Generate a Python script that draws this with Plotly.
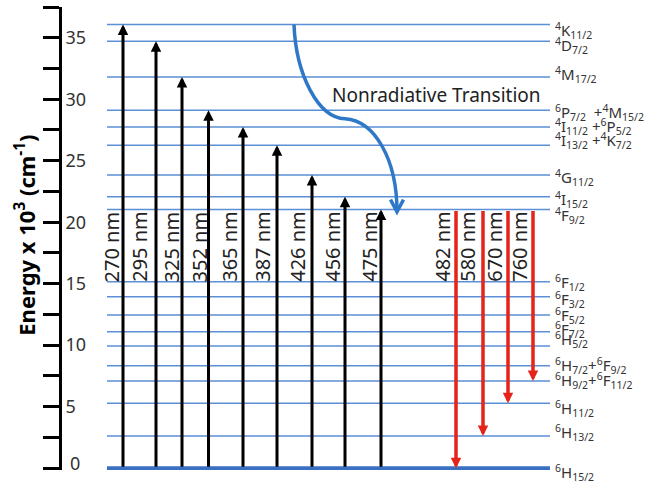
import plotly.graph_objects as go

# Dy3+ energy levels (x10^3 cm^-1), top to bottom
level_names = [
    "<sup>4</sup>K<sub>11/2</sub>",
    "<sup>4</sup>D<sub>7/2</sub>",
    "<sup>4</sup>M<sub>17/2</sub>",
    "<sup>6</sup>P<sub>7/2</sub>  +<sup>4</sup>M<sub>15/2</sub>",
    "<sup>4</sup>I<sub>11/2</sub> +<sup>6</sup>P<sub>5/2</sub>",
    "<sup>4</sup>I<sub>13/2</sub> +<sup>4</sup>K<sub>7/2</sub>",
    "<sup>4</sup>G<sub>11/2</sub>",
    "<sup>4</sup>I<sub>15/2</sub>",
    "<sup>4</sup>F<sub>9/2</sub>",
    "<sup>6</sup>F<sub>1/2</sub>",
    "<sup>6</sup>F<sub>3/2</sub>",
    "<sup>6</sup>F<sub>5/2</sub>",
    "<sup>6</sup>F<sub>7/2</sub>",
    "<sup>6</sup>H<sub>5/2</sub>",
    "<sup>6</sup>H<sub>7/2</sub>+<sup>6</sup>F<sub>9/2</sub>",
    "<sup>6</sup>H<sub>9/2</sub>+<sup>6</sup>F<sub>11/2</sub>",
    "<sup>6</sup>H<sub>11/2</sub>",
    "<sup>6</sup>H<sub>13/2</sub>",
    "<sup>6</sup>H<sub>15/2</sub>",
]
level_energy = [36.07, 34.71, 31.81, 29.11, 27.75, 26.26, 23.83, 22.06, 21.04,
                15.16, 13.94, 12.45, 11.10, 9.94, 8.33, 7.09, 5.28, 2.62, 0.0]

# Excitation (absorption) transitions from the ground state
exc_labels = ["270 nm", "295 nm", "325 nm", "352 nm", "365 nm",
              "387 nm", "426 nm", "456 nm", "475 nm"]
exc_level = [0, 1, 2, 3, 4, 5, 6, 7, 8]

# Emission transitions from 4F9/2
em_labels = ["482 nm", "580 nm", "670 nm", "760 nm"]
em_from = 8
em_level = [18, 17, 16, 15]

# y-axis ticks (labelled every 5, minor marks every 2.5)
tick_vals = [i * 2.5 for i in range(16)]
tick_text = [str(int(v)) if i % 2 == 0 else "" for i, v in enumerate(tick_vals)]

# ---- layout geometry (horizontal positions on a 0..595 x scale) ----
line_x0, line_x1 = 45, 488
label_x = 491
label_yshift = [-6, -4, 2, -2, 0, 5, -2, -3, -6, -1, -3, 0, 2, 6, 0, 0, -5, 3, -4]
exc_x = [61, 94, 120, 146.5, 181, 215, 250, 283, 319]
exc_text_x = [49.7, 78, 109.7, 137.7, 168, 201, 236, 271, 308]
em_x = [394, 421, 446, 471]
em_text_x = [381, 406, 433, 458]
wl_text_y = 18.0

LEVEL_BLUE = "#5b8fd6"
BASE_BLUE = "#3b6fc2"
CURVE_BLUE = "#2f78c8"
RED = "#e4241b"
FONT = "Noto Sans"

fig = go.Figure()

# upper levels as thin lines
xs, ys = [], []
for e in level_energy[:-1]:
    xs += [line_x0, line_x1, None]
    ys += [e, e, None]
fig.add_trace(go.Scatter(x=xs, y=ys, mode="lines",
                         line=dict(color=LEVEL_BLUE, width=1.5),
                         hoverinfo="skip", showlegend=False))
# ground state as a thick line
fig.add_trace(go.Scatter(x=[line_x0, line_x1], y=[level_energy[-1]] * 2, mode="lines",
                         line=dict(color=BASE_BLUE, width=4),
                         hoverinfo="skip", showlegend=False))

annotations = []

# level term labels
for name, e, dy in zip(level_names, level_energy, label_yshift):
    annotations.append(dict(x=label_x, y=e, xref="x", yref="y", text=name,
                            showarrow=False, xanchor="left", yanchor="middle",
                            yshift=dy, font=dict(family=FONT, size=15, color="#333333")))

# absorption arrows
for x, lv, tx, lab in zip(exc_x, exc_level, exc_text_x, exc_labels):
    annotations.append(dict(x=x, y=level_energy[lv], ax=x, ay=level_energy[-1],
                            xref="x", yref="y", axref="x", ayref="y", text="",
                            showarrow=True, arrowhead=2, arrowsize=0.7,
                            arrowwidth=3, arrowcolor="black", standoff=0))
    annotations.append(dict(x=tx, y=wl_text_y, xref="x", yref="y", text=lab,
                            showarrow=False, textangle=-90,
                            font=dict(family=FONT, size=20, color="#222222")))

# emission arrows
for x, lv, tx, lab in zip(em_x, em_level, em_text_x, em_labels):
    annotations.append(dict(x=x, y=level_energy[lv], ax=x, ay=level_energy[em_from],
                            xref="x", yref="y", axref="x", ayref="y", text="",
                            showarrow=True, arrowhead=2, arrowsize=0.6,
                            arrowwidth=3.5, arrowcolor=RED, standoff=0))
    annotations.append(dict(x=tx, y=wl_text_y, xref="x", yref="y", text=lab,
                            showarrow=False, textangle=-90,
                            font=dict(family=FONT, size=20, color="#222222")))

# nonradiative relaxation label
annotations.append(dict(x=268, y=30.37, xref="x", yref="y",
                        text="Nonradiative Transition", showarrow=False,
                        xanchor="left", yanchor="middle",
                        font=dict(family=FONT, size=19, color="#222222")))

# zero label sits at the bottom edge, where inside tick labels get dropped
annotations.append(dict(x=0, y=tick_vals[0], xref="paper", yref="y", xshift=6, yshift=5,
                        text=tick_text[0], showarrow=False, xanchor="left", yanchor="middle",
                        font=dict(family=FONT, size=18, color="#333333")))

# y-axis title
annotations.append(dict(x=0, y=0.506, xref="paper", yref="paper", xshift=-37,
                        text="<b>Energy x 10<sup>3</sup> (cm<sup>-1</sup>)</b>",
                        showarrow=False, textangle=-90, xanchor="center", yanchor="middle",
                        font=dict(family=FONT, size=22, color="black")))

# S-shaped nonradiative path from 4K11/2 down to 4F9/2
top = level_energy[0]
knee = 28.41
tip_x, tip_y = 335, 20.85
curve = (f"M 232,{top} C 234,31.99 256,28.50 283,{knee} "
         f"C 313,28.25 {tip_x},25.08 {tip_x},{tip_y}")
head = (f"M {tip_x - 6.5},{tip_y + 0.98} L {tip_x},{tip_y} "
        f"L {tip_x + 6.5},{tip_y + 0.98}")
shapes = [
    dict(type="path", path=curve, xref="x", yref="y",
         line=dict(color=CURVE_BLUE, width=3.5)),
    dict(type="path", path=head, xref="x", yref="y",
         line=dict(color=CURVE_BLUE, width=3.5)),
]

fig.update_layout(
    width=657, height=485, autosize=False,
    margin=dict(l=62, r=0, t=7, b=15, pad=0),
    paper_bgcolor="white", plot_bgcolor="white",
    annotations=annotations, shapes=shapes,
    showlegend=False,
    xaxis=dict(range=[0, 595], visible=False, fixedrange=True),
    yaxis=dict(range=[-0.15, 37.5], showgrid=False, zeroline=False,
               showline=True, linecolor="black", linewidth=3,
               ticks="outside", ticklen=16, tickwidth=3, tickcolor="black",
               tickvals=tick_vals, ticktext=tick_text,
               ticklabelposition="inside", ticklabelstandoff=4,
               tickfont=dict(family=FONT, size=18, color="#333333"),
               fixedrange=True),
)

fig.write_html("out.html")
